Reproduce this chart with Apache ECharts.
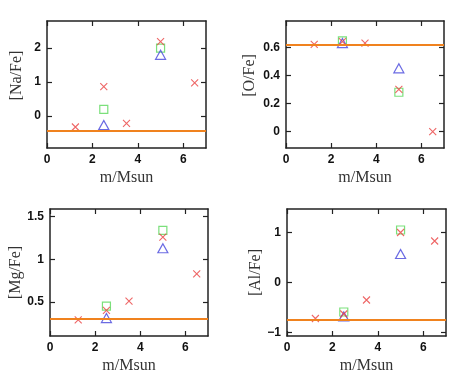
<!DOCTYPE html>
<html>
<head>
<meta charset="utf-8">
<script src="https://cdn.jsdelivr.net/npm/echarts@6/dist/echarts.min.js"></script>
<style>
  html, body { margin: 0; padding: 0; background: #fff; }
  #chart { width: 469px; height: 388px; }
</style>
</head>
<body>
<div id="chart"></div>
<script>
// masses of the models
const massAll = [1.25, 2.5, 3.5, 5, 6.5]
const massSub = [2.5, 5]
const xTicks = [0, 2, 4, 6]

// [X/Fe] values, red crosses / green squares / blue triangles / orange line
const naRed = [-0.33, 0.86, -0.22, 2.19, 0.97]
const naGreen = [0.19, 2.0]
const naBlue = [-0.27, 1.80]
const naLine = -0.45

const oRed = [0.62, 0.64, 0.63, 0.30, 0.0]
const oGreen = [0.645, 0.28]
const oBlue = [0.63, 0.45]
const oLine = 0.62

const mgRed = [0.29, 0.40, 0.51, 1.26, 0.83]
const mgGreen = [0.45, 1.34]
const mgBlue = [0.31, 1.13]
const mgLine = 0.30

const alRed = [-0.72, -0.63, -0.35, 1.0, 0.83]
const alGreen = [-0.59, 1.05]
const alBlue = [-0.68, 0.57]
const alLine = -0.74

const panels = [
  {name: '[Na/Fe]', red: naRed, green: naGreen, blue: naBlue, line: naLine,
   ymin: -0.95, ymax: 2.8, yticks: [0, 1, 2], grid: {left: 47, top: 21, width: 159, height: 127}, gap: 22, shift: 9},
  {name: '[O/Fe]', red: oRed, green: oGreen, blue: oBlue, line: oLine,
   ymin: -0.117, ymax: 0.787, yticks: [0, 0.2, 0.4, 0.6], grid: {left: 286, top: 21, width: 158, height: 127}, gap: 28, shift: 9},
  {name: '[Mg/Fe]', red: mgRed, green: mgGreen, blue: mgBlue, line: mgLine,
   ymin: 0.10, ymax: 1.59, yticks: [0.5, 1, 1.5], grid: {left: 50, top: 209, width: 158, height: 127}, gap: 26, shift: 0},
  {name: '[Al/Fe]', red: alRed, green: alGreen, blue: alBlue, line: alLine,
   ymin: -1.07, ymax: 1.47, yticks: [-1, 0, 1], grid: {left: 287, top: 209, width: 159, height: 127}, gap: 20, shift: 0}
]

const frame = {show: true, onZero: false, lineStyle: {color: '#222', width: 1.5}}
const tickStyle = {color: '#222', width: 1.2}
const tickFont = {color: '#111', fontFamily: 'Liberation Sans', fontWeight: 'bold', fontSize: 12}
const nameFont = {color: '#333', fontFamily: 'Liberation Serif', fontSize: 16}
const cross = 'path://M0,0L10,10M10,0L0,10'

const grid = [], xAxis = [], yAxis = [], series = []

panels.forEach((p, i) => {
  grid.push(p.grid)
  // bottom and top x axes
  xAxis.push({
    type: 'value', gridIndex: i, min: 0, max: 7,
    axisLine: frame, splitLine: {show: false},
    axisTick: {inside: true, length: 5, customValues: xTicks, lineStyle: tickStyle},
    axisLabel: Object.assign({margin: 6, customValues: xTicks}, tickFont),
    name: 'm/Msun', nameLocation: 'middle', nameGap: 22, nameTextStyle: nameFont
  })
  xAxis.push({
    type: 'value', gridIndex: i, position: 'top', min: 0, max: 7,
    axisLine: frame, splitLine: {show: false},
    axisTick: {inside: true, length: 5, customValues: xTicks, lineStyle: tickStyle},
    axisLabel: {show: false}
  })
  // left and right y axes
  yAxis.push({
    type: 'value', gridIndex: i, min: p.ymin, max: p.ymax,
    axisLine: frame, splitLine: {show: false},
    axisTick: {inside: true, length: 5, customValues: p.yticks, lineStyle: tickStyle},
    axisLabel: Object.assign({margin: 6, customValues: p.yticks,
      formatter: v => String(v).replace('-', '\u2212')}, tickFont),
    name: p.name, nameLocation: 'middle', nameGap: p.gap,
    nameTextStyle: Object.assign({padding: [0, 0, 0, p.shift * 2]}, nameFont)
  })
  yAxis.push({
    type: 'value', gridIndex: i, position: 'right', min: p.ymin, max: p.ymax,
    axisLine: frame, splitLine: {show: false},
    axisTick: {inside: true, length: 5, customValues: p.yticks, lineStyle: tickStyle},
    axisLabel: {show: false}
  })

  series.push({
    type: 'scatter', xAxisIndex: i * 2, yAxisIndex: i * 2, silent: true,
    data: [], symbol: 'none',
    markLine: {
      silent: true, symbol: 'none', label: {show: false},
      lineStyle: {color: '#f0821e', width: 2, type: 'solid'},
      data: [{yAxis: p.line}]
    }
  })
  series.push({
    type: 'scatter', xAxisIndex: i * 2, yAxisIndex: i * 2,
    symbol: 'rect', symbolSize: 8,
    itemStyle: {color: 'transparent', borderColor: '#5ad85a', borderWidth: 1.2},
    data: massSub.map((m, k) => [m, p.green[k]])
  })
  series.push({
    type: 'scatter', xAxisIndex: i * 2, yAxisIndex: i * 2,
    symbol: 'triangle', symbolSize: [10, 9],
    itemStyle: {color: 'transparent', borderColor: '#4646dc', borderWidth: 1.2},
    data: massSub.map((m, k) => [m, p.blue[k]])
  })
  series.push({
    type: 'scatter', xAxisIndex: i * 2, yAxisIndex: i * 2,
    symbol: cross, symbolSize: 7,
    itemStyle: {color: 'transparent', borderColor: '#ea4040', borderWidth: 1.1},
    data: massAll.map((m, k) => [m, p.red[k]])
  })
})

const myChart = echarts.init(document.getElementById('chart'), null, {renderer: 'canvas'})
myChart.setOption({
  animation: false,
  backgroundColor: '#fff',
  grid: grid,
  xAxis: xAxis,
  yAxis: yAxis,
  series: series
})
</script>
</body>
</html>
